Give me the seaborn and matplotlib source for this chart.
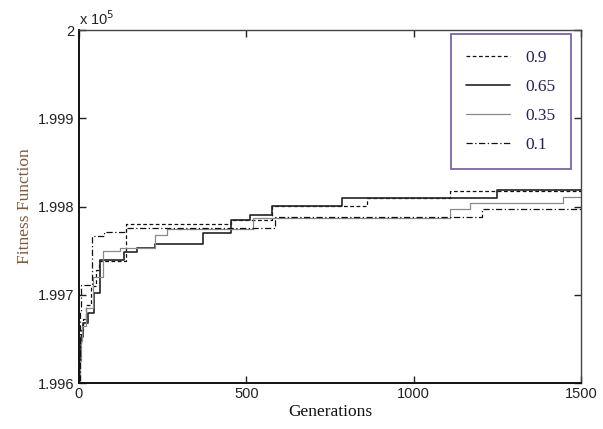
import matplotlib
matplotlib.use("Agg")
import matplotlib.pyplot as plt
from matplotlib.ticker import FuncFormatter
import seaborn as sns

# step change points (fitness in units of 1e5)
gen_09 = [0, 1, 3, 6, 12, 22, 35, 50, 60, 140, 454, 577, 860, 1108, 1500]
fit_09 = [1.99605, 1.9963, 1.99645, 1.9966, 1.99672, 1.99688, 1.9971, 1.99728,
          1.99738, 1.99780, 1.99785, 1.99801, 1.99810, 1.99818, 1.99818]

gen_065 = [0, 2, 5, 11, 26, 46, 63, 135, 172, 227, 371, 454, 511, 577, 786, 1249, 1500]
fit_065 = [1.99602, 1.9963, 1.99652, 1.99668, 1.99679, 1.99702, 1.99739, 1.99749,
           1.99753, 1.99758, 1.99770, 1.99785, 1.99790, 1.99801, 1.99810, 1.99819, 1.99819]

gen_035 = [0, 2, 5, 10, 20, 41, 72, 123, 227, 262, 520, 1108, 1168, 1446, 1500]
fit_035 = [1.99600, 1.99625, 1.99648, 1.99665, 1.99685, 1.99720, 1.99750, 1.99753,
           1.99768, 1.99774, 1.99787, 1.99797, 1.99804, 1.99811, 1.99811]

gen_01 = [0, 2, 4, 6, 38, 76, 140, 585, 1204, 1500]
fit_01 = [1.99603, 1.99640, 1.99680, 1.99711, 1.99767, 1.99771, 1.99776,
          1.99788, 1.99797, 1.99797]

labels = ["0.9", "0.65", "0.35", "0.1"]
x_ticks = [0, 500, 1000, 1500]
y_ticks = [1.996, 1.997, 1.998, 1.999, 2.0]

sns.set_style("ticks")
plt.rcParams["font.family"] = ["Liberation Sans", "DejaVu Sans"]

fig = plt.figure(figsize=(6.03, 4.29), dpi=100)
ax = fig.add_axes([0.131, 0.1072, 0.8325, 0.8228])

series = [
    (gen_09, fit_09, labels[0], "#111111", (0, (3, 2)), 0.9),
    (gen_065, fit_065, labels[1], "#222222", "-", 1.2),
    (gen_035, fit_035, labels[2], "#8a8a8a", "-", 0.9),
    (gen_01, fit_01, labels[3], "#111111", (0, (5, 2, 1, 2)), 0.9),
]
for gx, fy, lab, col, ls, lw in series:
    sns.lineplot(x=gx, y=fy, ax=ax, color=col, linestyle=ls, linewidth=lw,
                 drawstyle="steps-post", label=lab, estimator=None)

ax.set_xlim(0, 1500)
ax.set_ylim(1.996, 2.0)
ax.set_xticks(x_ticks)
ax.set_yticks(y_ticks)
ax.yaxis.set_major_formatter(FuncFormatter(lambda v, p: "%g" % round(v, 4)))
ax.tick_params(direction="in", length=5, width=1, top=True, right=True,
               labelsize=10.5, colors="#222222", pad=3)
for side in ["left", "bottom"]:
    ax.spines[side].set_linewidth(1.4)
    ax.spines[side].set_color("#111111")
for side in ["top", "right"]:
    ax.spines[side].set_linewidth(1.0)
    ax.spines[side].set_color("#444444")

ax.text(0.0, 1.005, "x 10$^{5}$", transform=ax.transAxes, fontsize=10.5,
        color="#222222", ha="left", va="bottom")

ax.set_xlabel("Generations", family=["Liberation Serif"], fontsize=12.5,
              color="#111111", labelpad=2)
ax.set_ylabel("Fitness Function", family=["Liberation Serif"], fontsize=12.5,
              color="#7d5a3c", labelpad=4)

leg = ax.legend(loc="upper right", bbox_to_anchor=(0.980, 0.989),
                borderaxespad=0, frameon=True, fancybox=False,
                prop={"family": "Liberation Serif", "size": 12.5},
                handlelength=2.5, labelspacing=0.75, borderpad=0.9,
                handletextpad=0.9)
leg.get_frame().set_edgecolor("#5b3f8c")
leg.get_frame().set_linewidth(1.3)
for t in leg.get_texts():
    t.set_color("#2a1f5c")

fig.savefig("out.png", dpi=100)
